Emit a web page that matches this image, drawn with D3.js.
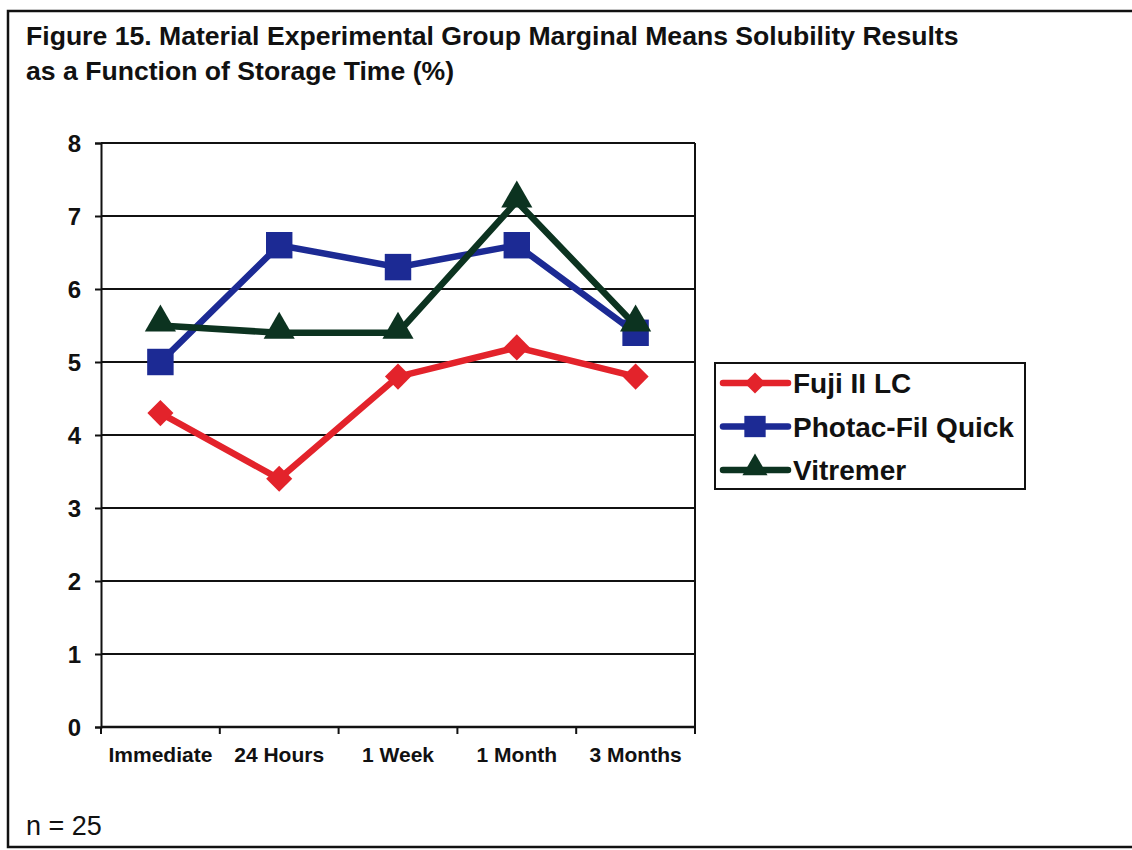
<!DOCTYPE html>
<html>
<head>
<meta charset="utf-8">
<script src="https://cdn.jsdelivr.net/npm/d3@7"></script>
<style>
  body { margin: 0; background: #fff; }
  svg { display: block; font-family: "Liberation Sans", Arial, sans-serif; }
</style>
</head>
<body>
<div class="chartDiv"></div>
<script>
"use strict"

// data
var categories = ["Immediate", "24 Hours", "1 Week", "1 Month", "3 Months"];
var seriesNames = ["Fuji II LC", "Photac-Fil Quick", "Vitremer"];
var fujiValues = [4.3, 3.4, 4.8, 5.2, 4.8];
var photacValues = [5.0, 6.6, 6.3, 6.6, 5.4];
var vitremerValues = [5.5, 5.4, 5.4, 7.2, 5.5];
var yTicks = [0, 1, 2, 3, 4, 5, 6, 7, 8];

var colors = ["#e3232b", "#1c2a94", "#0c3320"];
// diamond is a square turned 45 degrees
var symbols = [d3.symbolSquare, d3.symbolSquare, d3.symbolTriangle];
var rotations = [45, 0, 0];
var seriesValues = [fujiValues, photacValues, vitremerValues];

var width = 1132;
var height = 850;
var plot = {left: 101, right: 695, top: 143, bottom: 727};

var svg = d3.select(".chartDiv").append("svg")
    .attr("width", width)
    .attr("height", height);

// outer frame
svg.append("rect")
    .attr("x", 8).attr("y", 11)
    .attr("width", width + 10).attr("height", 836)
    .attr("fill", "none")
    .attr("stroke", "#111")
    .attr("stroke-width", 2.5);

// title
svg.append("text")
    .attr("x", 26).attr("y", 45)
    .attr("font-size", 26.6).attr("font-weight", "bold")
    .attr("fill", "#111")
    .text("Figure 15. Material Experimental Group Marginal Means Solubility Results");
svg.append("text")
    .attr("x", 26).attr("y", 80)
    .attr("font-size", 26.6).attr("font-weight", "bold")
    .attr("fill", "#111")
    .text("as a Function of Storage Time (%)");

var x = d3.scaleBand()
    .domain(categories)
    .range([plot.left, plot.right]);

var y = d3.scaleLinear()
    .domain([0, 8])
    .range([plot.bottom, plot.top]);

// gridlines
svg.append("g")
    .selectAll("line")
    .data(yTicks.slice(1))
    .enter()
    .append("line")
    .attr("x1", plot.left).attr("x2", plot.right)
    .attr("y1", function(d) { return y(d) })
    .attr("y2", function(d) { return y(d) })
    .attr("stroke", "#111")
    .attr("stroke-width", 2);

// right border
svg.append("line")
    .attr("x1", plot.right).attr("x2", plot.right)
    .attr("y1", plot.top).attr("y2", plot.bottom)
    .attr("stroke", "#111").attr("stroke-width", 2);

// y axis
var yAxis = d3.axisLeft(y)
    .tickValues(yTicks)
    .tickSize(6)
    .tickPadding(14);
var yG = svg.append("g")
    .attr("transform", "translate(" + plot.left + ",0)")
    .call(yAxis);
yG.select(".domain").attr("stroke", "#111").attr("stroke-width", 2);
yG.selectAll(".tick line").attr("stroke", "#111").attr("stroke-width", 2);
yG.selectAll(".tick text")
    .attr("font-size", 24).attr("font-weight", "bold")
    .attr("font-family", "Liberation Sans, Arial, sans-serif")
    .attr("fill", "#111")
    .attr("dy", "0.36em");

// x axis with ticks at band boundaries
var xG = svg.append("g")
    .attr("transform", "translate(0," + plot.bottom + ")");
xG.append("line")
    .attr("x1", plot.left).attr("x2", plot.right)
    .attr("y1", 0).attr("y2", 0)
    .attr("stroke", "#111").attr("stroke-width", 2.5);
xG.selectAll(".bTick")
    .data(categories.concat(["end"]))
    .enter()
    .append("line")
    .attr("class", "bTick")
    .attr("x1", function(d, i) { return plot.left + i * x.bandwidth() })
    .attr("x2", function(d, i) { return plot.left + i * x.bandwidth() })
    .attr("y1", 0).attr("y2", 7)
    .attr("stroke", "#111").attr("stroke-width", 2);
xG.selectAll(".xLabel")
    .data(categories)
    .enter()
    .append("text")
    .attr("class", "xLabel")
    .attr("x", function(d) { return x(d) + x.bandwidth() / 2 })
    .attr("y", 35)
    .attr("text-anchor", "middle")
    .attr("font-size", 21).attr("font-weight", "bold")
    .attr("fill", "#111")
    .text(function(d) { return d });

// series
var line = d3.line()
    .x(function(d, i) { return x(categories[i]) + x.bandwidth() / 2 })
    .y(function(d) { return y(d) });

var symbolSizes = [340, 700, 420];

seriesValues.forEach(function(values, s)
{
    var g = svg.append("g").attr("class", "series");
    g.append("path")
        .datum(values)
        .attr("d", line)
        .attr("fill", "none")
        .attr("stroke", colors[s])
        .attr("stroke-width", 6.5)
        .attr("stroke-linejoin", "miter");
    g.selectAll("path.marker")
        .data(values)
        .enter()
        .append("path")
        .attr("class", "marker")
        .attr("d", d3.symbol().type(symbols[s]).size(symbolSizes[s]))
        .attr("transform", function(d, i)
        {
            var dy = s == 2 ? -3 : 0;
            return "translate(" + (x(categories[i]) + x.bandwidth() / 2) + "," + (y(d) + dy) + ") rotate(" + rotations[s] + ")";
        })
        .attr("fill", colors[s]);
});

// legend
var legend = svg.append("g").attr("transform", "translate(715,363)");
legend.append("rect")
    .attr("width", 310).attr("height", 126)
    .attr("fill", "#fff")
    .attr("stroke", "#111").attr("stroke-width", 2);
var items = legend.selectAll(".item")
    .data(seriesNames)
    .enter()
    .append("g")
    .attr("class", "item")
    .attr("transform", function(d, i) { return "translate(0," + (20 + i * 43.5) + ")" });
items.append("line")
    .attr("x1", 8).attr("x2", 73)
    .attr("stroke", function(d, i) { return colors[i] })
    .attr("stroke-width", 6.5)
    .attr("stroke-linecap", "round");
items.append("path")
    .attr("d", function(d, i) { return d3.symbol().type(symbols[i]).size(symbolSizes[i] * 0.65)() })
    .attr("transform", function(d, i) { return "translate(40," + (i == 2 ? -2 : 0) + ") rotate(" + rotations[i] + ")" })
    .attr("fill", function(d, i) { return colors[i] });
items.append("text")
    .attr("x", 78)
    .attr("dy", "0.36em")
    .attr("font-size", 28).attr("font-weight", "bold")
    .attr("fill", "#111")
    .text(function(d) { return d });

// footnote
svg.append("text")
    .attr("x", 26).attr("y", 835)
    .attr("font-size", 27)
    .attr("fill", "#111")
    .text("n = 25");
</script>
</body>
</html>
